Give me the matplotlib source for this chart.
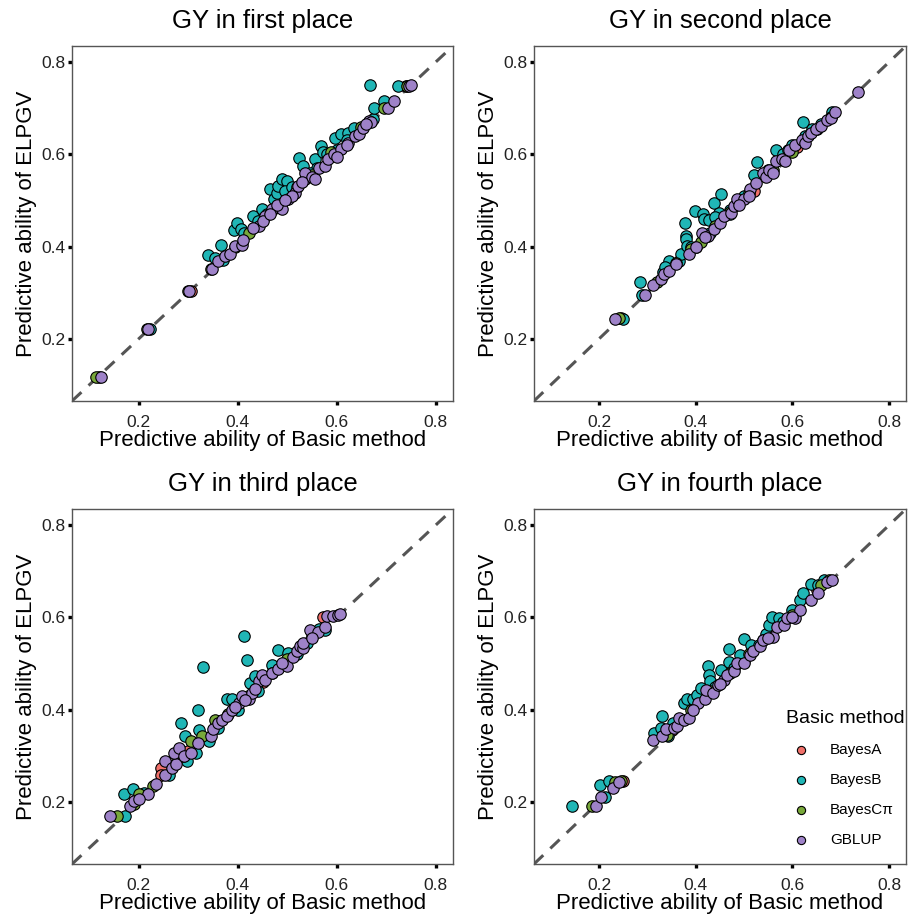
import matplotlib
matplotlib.use('agg')
import matplotlib.pyplot as plt

plt.rcParams['font.family'] = ['Liberation Sans', 'DejaVu Sans']

methods = ['BayesA', 'BayesB', 'BayesCπ', 'GBLUP']
colors = ['#F0706A', '#20B6B6', '#78A83A', '#9E82C8']
titles = ['GY in first place', 'GY in second place',
          'GY in third place', 'GY in fourth place']
ticks = [0.2, 0.4, 0.6, 0.8]

# (basic, ELPGV) pairs per method, per panel
gy1_bayesA = [(0.12, 0.118), (0.305, 0.304), (0.45, 0.46), (0.6, 0.605), (0.74, 0.748)]
gy1_bayesB = [(0.223, 0.221), (0.34, 0.382), (0.355, 0.376), (0.367, 0.404), (0.37, 0.37),
              (0.392, 0.436), (0.399, 0.452), (0.407, 0.439), (0.412, 0.43), (0.43, 0.466),
              (0.449, 0.481), (0.466, 0.524), (0.474, 0.503), (0.479, 0.517), (0.482, 0.531),
              (0.49, 0.546), (0.5, 0.542), (0.495, 0.52), (0.51, 0.53), (0.524, 0.593),
              (0.532, 0.575), (0.557, 0.589), (0.569, 0.618), (0.573, 0.604), (0.58, 0.6),
              (0.596, 0.636), (0.609, 0.643), (0.623, 0.647), (0.635, 0.658), (0.673, 0.676),
              (0.675, 0.701), (0.696, 0.716), (0.667, 0.75), (0.723, 0.748), (0.56, 0.57),
              (0.6, 0.61), (0.62, 0.63), (0.545, 0.56), (0.46, 0.47), (0.44, 0.455)]
gy1_bayesC = [(0.114, 0.118), (0.3, 0.304), (0.346, 0.352), (0.395, 0.4), (0.422, 0.43),
              (0.47, 0.48), (0.52, 0.53), (0.589, 0.604), (0.695, 0.701), (0.742, 0.748),
              (0.65, 0.66), (0.55, 0.555), (0.216, 0.221)]
gy1_gblup = [(0.124, 0.118), (0.218, 0.221), (0.302, 0.304), (0.348, 0.351), (0.36, 0.369),
             (0.375, 0.38), (0.385, 0.383), (0.395, 0.401), (0.409, 0.403), (0.442, 0.445),
             (0.43, 0.44), (0.456, 0.466), (0.469, 0.481), (0.489, 0.481), (0.48, 0.49),
             (0.502, 0.503), (0.516, 0.517), (0.522, 0.531), (0.536, 0.546), (0.536, 0.56),
             (0.55, 0.55), (0.556, 0.546), (0.565, 0.57), (0.576, 0.575), (0.583, 0.589),
             (0.595, 0.6), (0.608, 0.612), (0.623, 0.625), (0.636, 0.64), (0.645, 0.645),
             (0.653, 0.658), (0.666, 0.672), (0.67, 0.67), (0.703, 0.701), (0.715, 0.716),
             (0.746, 0.748), (0.75, 0.75), (0.45, 0.455), (0.51, 0.51), (0.53, 0.54),
             (0.6, 0.595), (0.62, 0.62), (0.66, 0.665), (0.41, 0.415), (0.465, 0.47), (0.495, 0.5)]

gy2_bayesA = [(0.245, 0.244), (0.4, 0.4), (0.52, 0.52), (0.61, 0.615)]
gy2_bayesB = [(0.249, 0.243), (0.285, 0.322), (0.289, 0.295), (0.332, 0.344), (0.345, 0.369),
              (0.337, 0.355), (0.365, 0.369), (0.37, 0.383), (0.377, 0.452), (0.379, 0.423),
              (0.38, 0.416), (0.382, 0.401), (0.39, 0.4), (0.399, 0.476), (0.415, 0.471),
              (0.417, 0.459), (0.427, 0.457), (0.437, 0.495), (0.452, 0.513), (0.449, 0.473),
              (0.44, 0.465), (0.47, 0.48), (0.49, 0.5), (0.5, 0.51), (0.525, 0.553),
              (0.52, 0.556), (0.527, 0.583), (0.55, 0.565), (0.567, 0.61), (0.58, 0.6),
              (0.59, 0.61), (0.6, 0.62), (0.622, 0.669), (0.625, 0.64), (0.64, 0.655),
              (0.66, 0.665), (0.682, 0.691), (0.43, 0.43), (0.47, 0.47)]
gy2_bayesC = [(0.242, 0.244), (0.319, 0.322), (0.36, 0.365), (0.39, 0.395), (0.44, 0.445),
              (0.47, 0.475), (0.51, 0.515), (0.56, 0.565), (0.6, 0.605), (0.65, 0.655),
              (0.68, 0.68), (0.41, 0.41)]
gy2_gblup = [(0.232, 0.243), (0.295, 0.295), (0.311, 0.316), (0.327, 0.329), (0.335, 0.34),
             (0.344, 0.347), (0.359, 0.362), (0.385, 0.383), (0.4, 0.398), (0.413, 0.43),
             (0.425, 0.423), (0.437, 0.437), (0.45, 0.45), (0.459, 0.466), (0.472, 0.473),
             (0.479, 0.488), (0.485, 0.502), (0.499, 0.502), (0.49, 0.49), (0.512, 0.524),
             (0.525, 0.538), (0.539, 0.56), (0.545, 0.55), (0.552, 0.567), (0.565, 0.585),
             (0.579, 0.589), (0.585, 0.585), (0.592, 0.61), (0.605, 0.621), (0.619, 0.632),
             (0.625, 0.625), (0.632, 0.639), (0.639, 0.646), (0.649, 0.654), (0.659, 0.661),
             (0.672, 0.675), (0.679, 0.679), (0.689, 0.691), (0.735, 0.736), (0.42, 0.42),
             (0.51, 0.51), (0.56, 0.56)]

gy3_bayesA = [(0.245, 0.274), (0.245, 0.259), (0.573, 0.6), (0.3, 0.31), (0.45, 0.46)]
gy3_bayesB = [(0.173, 0.169), (0.171, 0.216), (0.189, 0.227), (0.262, 0.259), (0.285, 0.371),
              (0.293, 0.342), (0.298, 0.288), (0.315, 0.306), (0.33, 0.492), (0.32, 0.4),
              (0.322, 0.355), (0.342, 0.331), (0.378, 0.423), (0.389, 0.422), (0.412, 0.56),
              (0.419, 0.508), (0.425, 0.458), (0.435, 0.472), (0.469, 0.497), (0.481, 0.53),
              (0.502, 0.523), (0.539, 0.544), (0.576, 0.573), (0.565, 0.575), (0.4, 0.4),
              (0.44, 0.44), (0.29, 0.3), (0.36, 0.36), (0.52, 0.52), (0.21, 0.22)]
gy3_bayesC = [(0.156, 0.169), (0.201, 0.216), (0.228, 0.234), (0.305, 0.331), (0.328, 0.342),
              (0.355, 0.378), (0.19, 0.195), (0.38, 0.39), (0.42, 0.43), (0.47, 0.48),
              (0.5, 0.51), (0.55, 0.56), (0.27, 0.28)]
gy3_gblup = [(0.141, 0.169), (0.183, 0.191), (0.191, 0.202), (0.218, 0.216), (0.235, 0.238),
             (0.252, 0.259), (0.252, 0.288), (0.268, 0.274), (0.275, 0.281), (0.271, 0.306),
             (0.282, 0.317), (0.292, 0.299), (0.305, 0.306), (0.319, 0.328), (0.345, 0.342),
             (0.349, 0.357), (0.361, 0.37), (0.369, 0.378), (0.378, 0.386), (0.389, 0.4),
             (0.402, 0.414), (0.409, 0.429), (0.422, 0.422), (0.429, 0.436), (0.442, 0.461),
             (0.449, 0.476), (0.456, 0.465), (0.469, 0.479), (0.482, 0.487), (0.499, 0.494),
             (0.512, 0.515), (0.519, 0.526), (0.525, 0.537), (0.532, 0.533), (0.532, 0.544),
             (0.546, 0.573), (0.563, 0.569), (0.576, 0.58), (0.581, 0.602), (0.593, 0.602),
             (0.603, 0.605), (0.606, 0.607), (0.2, 0.205), (0.415, 0.42), (0.395, 0.405),
             (0.435, 0.445), (0.49, 0.5), (0.55, 0.555)]

gy4_bayesA = [(0.249, 0.245), (0.35, 0.355), (0.5, 0.505), (0.65, 0.66)]
gy4_bayesB = [(0.143, 0.19), (0.201, 0.236), (0.212, 0.211), (0.221, 0.245), (0.313, 0.35),
              (0.329, 0.386), (0.327, 0.36), (0.342, 0.342), (0.352, 0.371), (0.375, 0.414),
              (0.382, 0.422), (0.395, 0.422), (0.402, 0.432), (0.41, 0.447), (0.425, 0.494),
              (0.427, 0.476), (0.429, 0.461), (0.452, 0.486), (0.469, 0.532), (0.469, 0.504),
              (0.492, 0.519), (0.5, 0.553), (0.515, 0.54), (0.545, 0.565), (0.552, 0.583),
              (0.557, 0.6), (0.572, 0.598), (0.599, 0.616), (0.615, 0.637), (0.622, 0.652),
              (0.639, 0.673), (0.652, 0.67), (0.665, 0.681), (0.44, 0.45), (0.48, 0.49),
              (0.53, 0.54), (0.58, 0.59)]
gy4_bayesC = [(0.185, 0.19), (0.232, 0.242), (0.245, 0.245), (0.34, 0.345), (0.39, 0.4),
              (0.43, 0.44), (0.47, 0.48), (0.51, 0.52), (0.54, 0.55), (0.6, 0.605),
              (0.66, 0.67), (0.675, 0.68)]
gy4_gblup = [(0.193, 0.19), (0.204, 0.211), (0.229, 0.229), (0.242, 0.242), (0.311, 0.335),
             (0.33, 0.342), (0.339, 0.357), (0.355, 0.36), (0.362, 0.364), (0.365, 0.382),
             (0.375, 0.378), (0.385, 0.382), (0.405, 0.414), (0.419, 0.422), (0.422, 0.443),
             (0.435, 0.436), (0.445, 0.454), (0.459, 0.465), (0.465, 0.476), (0.479, 0.483),
             (0.485, 0.501), (0.499, 0.501), (0.512, 0.519), (0.519, 0.526), (0.532, 0.537),
             (0.539, 0.551), (0.559, 0.558), (0.569, 0.58), (0.582, 0.583), (0.589, 0.598),
             (0.605, 0.598), (0.615, 0.616), (0.639, 0.637), (0.652, 0.652), (0.672, 0.677),
             (0.682, 0.681), (0.395, 0.4), (0.45, 0.455), (0.55, 0.555), (0.6, 0.6)]

panels = [
    [gy1_bayesA, gy1_bayesB, gy1_bayesC, gy1_gblup],
    [gy2_bayesA, gy2_bayesB, gy2_bayesC, gy2_gblup],
    [gy3_bayesA, gy3_bayesB, gy3_bayesC, gy3_gblup],
    [gy4_bayesA, gy4_bayesB, gy4_bayesC, gy4_gblup],
]

# axes boxes in figure fractions: left, bottom, width, height
boxes = [
    (0.0788, 0.5637, 0.4168, 0.3863),
    (0.5842, 0.5637, 0.4070, 0.3863),
    (0.0788, 0.0598, 0.4168, 0.3863),
    (0.5842, 0.0598, 0.4070, 0.3863),
]

lo, hi = 0.065, 0.835

fig = plt.figure(figsize=(9.14, 9.19), dpi=100)

for i, (data, title, box) in enumerate(zip(panels, titles, boxes)):
    ax = fig.add_axes(box)
    ax.plot([lo, hi], [lo, hi], color='#555555', lw=2.2, ls=(0, (4.2, 3.2)), zorder=1)
    for pts, name, col in zip(data, methods, colors):
        xs = [p[0] for p in pts]
        ys = [p[1] for p in pts]
        ax.scatter(xs, ys, s=68, c=col, edgecolors='black', linewidths=0.8,
                   label=name, zorder=2)
    ax.set_xlim(lo, hi)
    ax.set_ylim(lo, hi)
    ax.set_xticks(ticks)
    ax.set_yticks(ticks)
    ax.set_xticklabels([str(t) for t in ticks])
    ax.set_yticklabels([str(t) for t in ticks])
    ax.tick_params(length=3, width=2.4, color='black', labelsize=12.5,
                   labelcolor='#222222')
    ax.tick_params(axis='x', pad=7)
    ax.tick_params(axis='y', pad=2)
    for sp in ax.spines.values():
        sp.set_color('#555555')
        sp.set_linewidth(1.0)
    ax.set_title(title, fontsize=18.5, pad=13)
    ax.set_xlabel('Predictive ability of Basic method', fontsize=16, labelpad=0)
    ax.set_ylabel('Predictive ability of ELPGV', fontsize=16, labelpad=3)
    if i == 3:
        leg = ax.legend(title='Basic method', loc='lower left',
                        bbox_to_anchor=(0.64, 0.01), frameon=False,
                        fontsize=11, title_fontsize=14, markerscale=0.72,
                        handletextpad=0.9, labelspacing=1.05)
        leg._legend_box.align = 'left'

plt.savefig('out.png', dpi=100)
plt.close()
